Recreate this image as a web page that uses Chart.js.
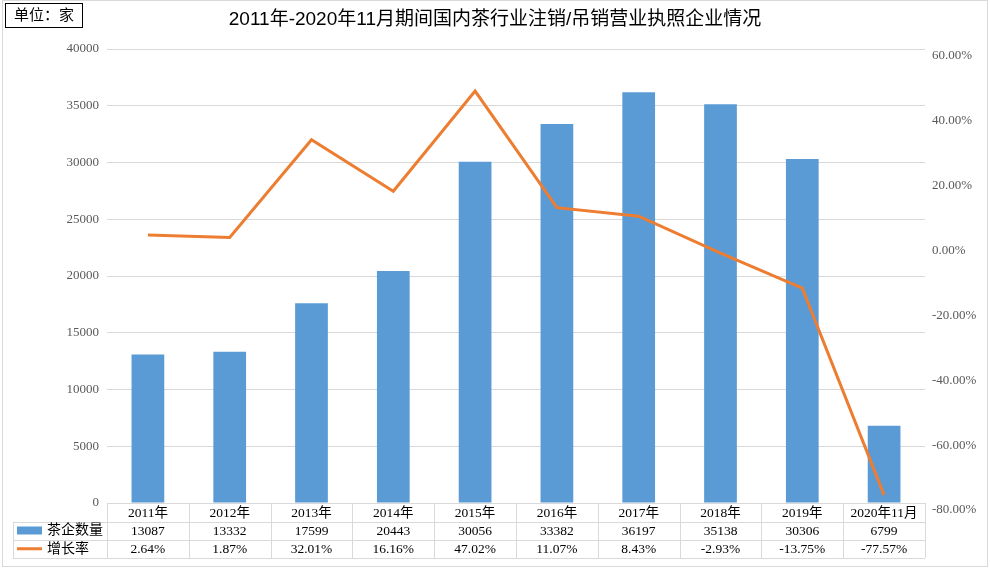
<!DOCTYPE html>
<html>
<head>
<meta charset="utf-8">
<script src="https://cdn.jsdelivr.net/npm/chart.js@4.4.1/dist/chart.umd.min.js"></script>
<style>
  html, body { margin: 0; padding: 0; background: #fff; }
  #wrap { width: 990px; height: 569px; position: relative; }
</style>
</head>
<body>
<div id="wrap"><canvas id="teaChart" width="990" height="569"></canvas></div>
<script>
const categories = ['2011年', '2012年', '2013年', '2014年', '2015年', '2016年', '2017年', '2018年', '2019年', '2020年11月'];
const companyCounts = [13087, 13332, 17599, 20443, 30056, 33382, 36197, 35138, 30306, 6799];
const growthRates = [2.64, 1.87, 32.01, 16.16, 47.02, 11.07, 8.43, -2.93, -13.75, -77.57];
const seriesNames = ['茶企数量', '增长率'];
const titleText = '2011年-2020年11月期间国内茶行业注销/吊销营业执照企业情况';
const unitText = '单位：家';

const BLUE = '#5b9bd5';
const ORANGE = '#ed7d31';
const GRID = '#d9d9d9';
const SERIF = '"Liberation Serif", "Times New Roman", "Noto Sans CJK SC", serif';
const SANS = '"Liberation Sans", Arial, "Noto Sans CJK SC", sans-serif';

// draws title, unit box, frame and the data table under the plot
const tablePlugin = {
    id: 'dataTable',
    afterDraw(chart) {
        const ctx = chart.ctx;
        const x = chart.scales.x;
        const area = chart.chartArea;
        const step = x.getPixelForValue(1) - x.getPixelForValue(0);
        const left = 13;
        const firstCol = x.getPixelForValue(0) - step / 2;
        const right = x.getPixelForValue(categories.length - 1) + step / 2;
        const rows = [area.bottom, area.bottom + 18.5, area.bottom + 36.5, area.bottom + 55];

        ctx.save();
        // outer frame
        ctx.strokeStyle = GRID;
        ctx.lineWidth = 1;
        ctx.strokeRect(2.5, 0.5, 985, 566);

        // title
        ctx.fillStyle = '#000';
        ctx.font = '19px ' + SANS;
        ctx.textAlign = 'center';
        ctx.textBaseline = 'middle';
        ctx.fillText(titleText, 495, 20);

        // unit box
        ctx.strokeStyle = '#000';
        ctx.strokeRect(5.5, 3.5, 77, 24);
        ctx.font = '15px ' + SANS;
        ctx.fillText(unitText, 44, 16);

        // table lines
        ctx.strokeStyle = GRID;
        ctx.beginPath();
        ctx.moveTo(firstCol, rows[0] + 0.5);
        ctx.lineTo(right, rows[0] + 0.5);
        for (let r = 1; r < rows.length; r++) {
            ctx.moveTo(left, Math.round(rows[r]) + 0.5);
            ctx.lineTo(right, Math.round(rows[r]) + 0.5);
        }
        ctx.moveTo(left + 0.5, rows[1]);
        ctx.lineTo(left + 0.5, rows[3]);
        for (let i = 0; i <= categories.length; i++) {
            const cx = Math.round(firstCol + i * step) + 0.5;
            ctx.moveTo(cx, rows[0]);
            ctx.lineTo(cx, rows[3]);
        }
        ctx.stroke();

        // table text
        ctx.fillStyle = '#000';
        ctx.font = '13.5px ' + SERIF;
        categories.forEach((c, i) => {
            const cx = x.getPixelForValue(i);
            ctx.fillText(c, cx, (rows[0] + rows[1]) / 2 + 1);
            ctx.fillText(String(companyCounts[i]), cx, (rows[1] + rows[2]) / 2 + 1);
            ctx.fillText(growthRates[i].toFixed(2) + '%', cx, (rows[2] + rows[3]) / 2 + 1);
        });

        // legend keys
        ctx.fillStyle = BLUE;
        ctx.fillRect(17, rows[1] + 5, 25, 8);
        ctx.strokeStyle = ORANGE;
        ctx.lineWidth = 3;
        ctx.beginPath();
        ctx.moveTo(17, (rows[2] + rows[3]) / 2);
        ctx.lineTo(42, (rows[2] + rows[3]) / 2);
        ctx.stroke();
        ctx.fillStyle = '#000';
        ctx.textAlign = 'left';
        ctx.font = '14px ' + SANS;
        ctx.fillText(seriesNames[0], 47, (rows[1] + rows[2]) / 2);
        ctx.fillText(seriesNames[1], 47, (rows[2] + rows[3]) / 2);
        ctx.restore();
    }
};

const ctx = document.getElementById('teaChart').getContext('2d');
new Chart(ctx, {
    data: {
        labels: categories,
        datasets: [{
            type: 'line',
            label: seriesNames[1],
            data: growthRates,
            yAxisID: 'y1',
            borderColor: ORANGE,
            borderWidth: 3,
            pointRadius: 0,
            tension: 0,
            order: 0
        }, {
            type: 'bar',
            label: seriesNames[0],
            data: companyCounts,
            yAxisID: 'y',
            backgroundColor: BLUE,
            categoryPercentage: 1,
            barPercentage: 0.4,
            order: 1
        }]
    },
    options: {
        responsive: false,
        animation: false,
        layout: { padding: { top: 49, bottom: 66, left: 0, right: 0 } },
        plugins: {
            legend: { display: false },
            tooltip: { enabled: false }
        },
        scales: {
            x: { display: false, offset: true },
            y: {
                position: 'left',
                min: 0,
                max: 40000,
                ticks: {
                    stepSize: 5000,
                    color: '#595959',
                    font: { family: SERIF, size: 13 },
                    padding: 8,
                    callback: v => String(v)
                },
                grid: { color: GRID, drawTicks: false },
                border: { display: false },
                afterFit: s => { s.width = 107; }
            },
            y1: {
                position: 'right',
                min: -80,
                max: 60,
                ticks: {
                    stepSize: 20,
                    color: '#595959',
                    font: { family: SERIF, size: 13 },
                    padding: 7,
                    labelOffset: 7,
                    callback: v => v.toFixed(2) + '%'
                },
                grid: { display: false, drawTicks: false },
                border: { display: false },
                afterFit: s => { s.width = 65; }
            }
        }
    },
    plugins: [tablePlugin]
});
</script>
</body>
</html>
